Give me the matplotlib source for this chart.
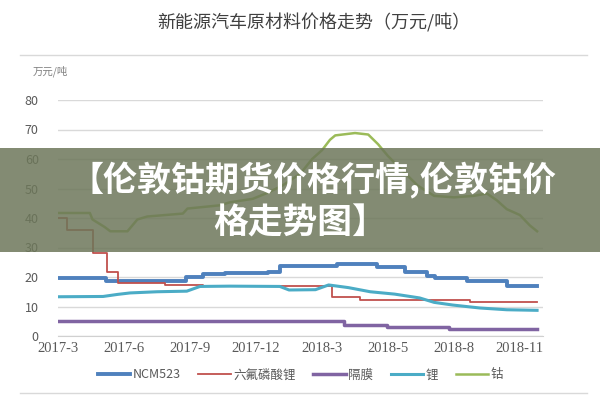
import matplotlib.pyplot as plt
from matplotlib.patches import Rectangle

plt.rcParams['font.family'] = ['Noto Sans CJK SC', 'DejaVu Sans']

# x positions are in "tick units": 0 = 2017-3, 1 = 2017-6, ... 7 = 2018-11
tick_labels = ['2017-3', '2017-6', '2017-9', '2017-12', '2018-3', '2018-5', '2018-8', '2018-11']

# step-like series: breakpoints and values (万元/吨)
ncm_x = [0, 0.72, 1.93, 2.2, 2.53, 3.18, 3.36, 4.23, 4.83, 5.26, 5.59, 5.71, 6.2, 6.8, 7.26]
ncm_y = [19.6, 18.8, 20.0, 21.0, 21.4, 21.7, 23.7, 24.4, 23.4, 21.7, 20.3, 19.7, 18.6, 17.0, 17.0]

lipf6_x = [0, 0.14, 0.53, 0.74, 0.91, 1.62, 2.2, 4.15, 4.58, 6.24, 7.26]
lipf6_y = [40.0, 36.0, 28.0, 21.7, 18.0, 17.3, 16.8, 13.2, 12.2, 11.5, 11.6]

sep_x = [0, 4.33, 4.98, 5.92, 7.26]
sep_y = [5.1, 3.7, 3.0, 2.3, 2.3]

# smoother series
li_x = [0, 0.68, 0.9, 1.09, 1.5, 1.95, 2.15, 2.6, 3.36, 3.5, 3.9, 4.1, 4.4, 4.73, 5.1, 5.48, 5.7, 5.98, 6.39, 6.8, 7.26]
li_y = [13.3, 13.4, 14.1, 14.6, 15.0, 15.2, 16.8, 16.9, 16.8, 15.6, 15.7, 17.3, 16.4, 15.0, 14.2, 12.9, 11.4, 10.5, 9.5, 8.9, 8.7]

co_x = [0, 0.48, 0.52, 0.7, 0.79, 1.05, 1.2, 1.35, 1.89, 1.96, 2.45, 2.6, 2.95, 3.17, 3.4, 3.67, 3.85,
        4.0, 4.12, 4.2, 4.5, 4.7, 4.85, 5.0, 5.2, 5.45, 5.7, 6.0, 6.3, 6.5, 6.65, 6.8, 7.0, 7.15, 7.26]
co_y = [41.7, 41.7, 39.5, 37.0, 35.5, 35.5, 39.5, 40.5, 41.5, 43.2, 44.3, 45.3, 46.5, 48.5, 51.0, 55.0, 60.0,
        63.0, 66.5, 68.0, 68.8, 68.3, 65.0, 61.0, 56.5, 51.0, 47.5, 47.0, 47.5, 48.3, 46.0, 43.0, 41.0, 37.5, 35.5]

fig = plt.figure(figsize=(6, 4), dpi=100)
ax = fig.add_axes([0.097, 0.16, 0.808, 0.59])

ax.plot(ncm_x, ncm_y, drawstyle='steps-post', color='#4F81BD', lw=2.8, label='NCM523')
ax.plot(lipf6_x, lipf6_y, drawstyle='steps-post', color='#C0504D', lw=1.3, label='六氟磷酸锂')
ax.plot(sep_x, sep_y, drawstyle='steps-post', color='#8064A2', lw=2.5, label='隔膜')
ax.plot(li_x, li_y, color='#4BACC6', lw=2.2, label='锂')
ax.plot(co_x, co_y, color='#9BBB59', lw=1.8, label='钴')

ax.set_xlim(0, 7.35)
ax.set_ylim(0, 80)
ax.set_yticks(range(0, 81, 10))
ax.set_xticks(range(8))
ax.set_xticklabels(tick_labels, family='Liberation Serif', fontsize=10.5, color='#595959')
ax.tick_params(axis='y', length=0, pad=14, labelsize=9, labelcolor='#595959')
ax.tick_params(axis='x', length=0, pad=4)
ax.grid(axis='y', color='#d9d9d9', lw=1)
ax.set_axisbelow(True)
for s in ['top', 'right', 'left']:
    ax.spines[s].set_visible(False)
ax.spines['bottom'].set_color('#d0d0d0')

ax.legend(loc='upper center', bbox_to_anchor=(0.5, -0.09), ncol=5, frameon=False,
          fontsize=9, handlelength=2.6, handletextpad=0.2, columnspacing=1.4,
          labelcolor='#595959')

fig.text(0.523, 0.943, '新能源汽车原材料价格走势（万元/吨）', ha='center', va='center',
         fontsize=13, color='#404040')
fig.text(0.055, 0.822, '万元/吨', ha='left', va='center', fontsize=7.5, color='#7f7f7f')

# thin rules above and below the chart
fig.add_artist(plt.Line2D([0.033, 0.978], [0.862, 0.862], color='#d9d9d9', lw=1))
fig.add_artist(plt.Line2D([0.033, 0.978], [0.018, 0.018], color='#d9d9d9', lw=1))

# overlay banner
fig.add_artist(Rectangle((0, 0.37), 1, 0.26, transform=fig.transFigure,
                         facecolor='#6d775a', alpha=0.85, edgecolor='none', zorder=5))
fig.text(0.522, 0.548, '【伦敦钴期货价格行情,伦敦钴价', ha='center', va='center',
         fontsize=24.5, weight='bold', color='white', zorder=6)
fig.text(0.5, 0.443, '格走势图】', ha='center', va='center',
         fontsize=25, weight='bold', color='white', zorder=6)

fig.savefig('out.png', dpi=100)
